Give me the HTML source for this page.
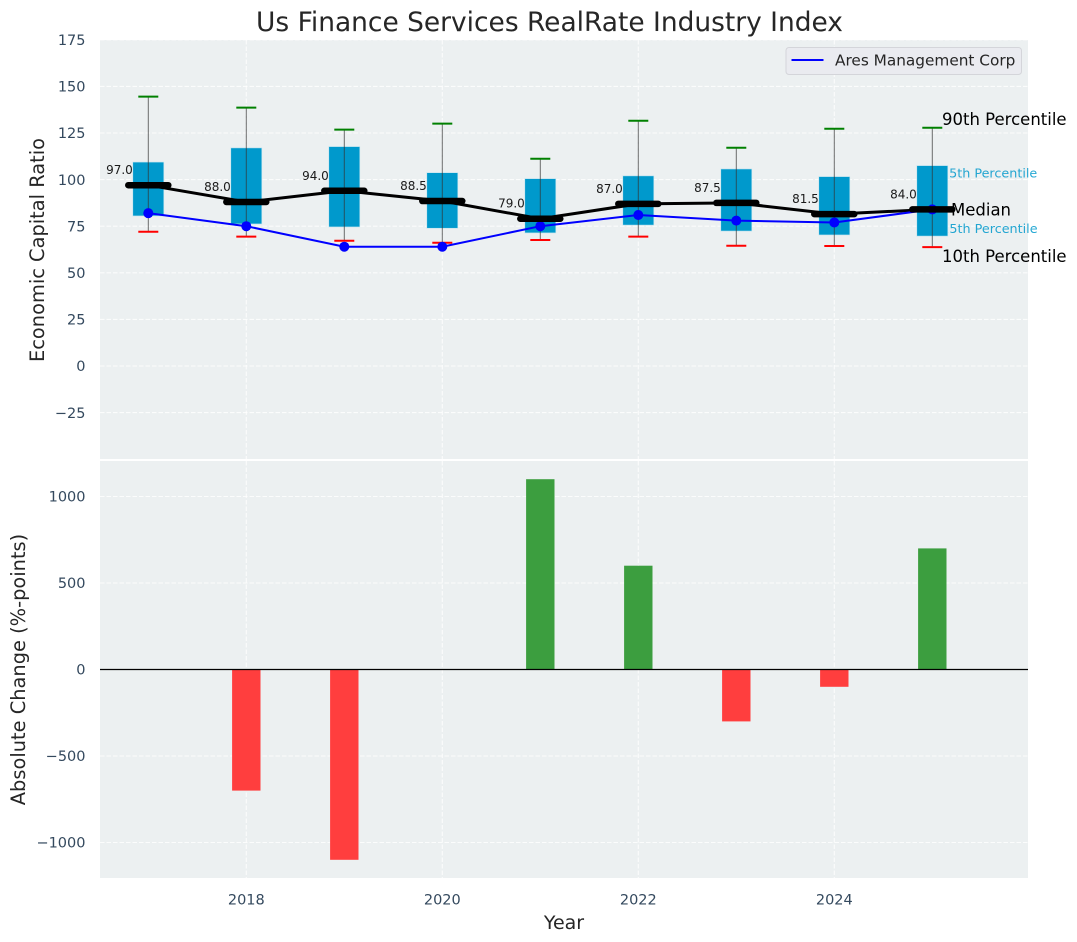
<!DOCTYPE html>
<html lang="en">
<head>
<meta charset="utf-8">
<title>Us Finance Services RealRate Industry Index</title>
<style>
html,body{margin:0;padding:0;background:#fff;width:1077px;height:942px;overflow:hidden}
svg{display:block;font-family:"DejaVu Sans","Liberation Sans",sans-serif}
</style>
</head>
<body>
<svg id="chart" xmlns="http://www.w3.org/2000/svg" width="1077" height="942" viewBox="0 0 1077 942">
  <text x="549.5" y="31" text-anchor="middle" font-size="26.45" fill="#262626">Us Finance Services RealRate Industry Index</text>
  <rect x="100" y="40" width="928" height="419" fill="#ecf0f1"/>
  <rect x="100" y="461" width="928" height="417" fill="#ecf0f1"/>
  <g id="grid"></g>
  <g id="upper"></g>
  <g id="lower"></g>
  <g id="ticks"></g>
  <text transform="translate(44,250) rotate(-90)" text-anchor="middle" font-size="19.4" fill="#262626">Economic Capital Ratio</text>
  <text transform="translate(25,669.5) rotate(-90)" text-anchor="middle" font-size="19.4" fill="#262626">Absolute Change (%-points)</text>
  <text x="564" y="929" text-anchor="middle" font-size="19" fill="#262626">Year</text>
  <g>
    <rect x="786" y="47.5" width="235.5" height="27" rx="3" fill="#eaebf0" stroke="#d4d5da" stroke-width="1"/>
    <line x1="791.5" y1="60" x2="823.5" y2="60" stroke="#0000ff" stroke-width="2"/>
    <text x="835" y="65.5" font-size="15.3" fill="#262626">Ares Management Corp</text>
  </g>
</svg>
<script>
const years = [2017, 2018, 2019, 2020, 2021, 2022, 2023, 2024, 2025];
const p90 = [144.5, 138.6, 126.8, 130, 111.2, 131.6, 117.1, 127.3, 127.8];
const q3 = [109.4, 117, 117.7, 103.7, 100.5, 102, 105.7, 101.6, 107.5];
const median = [97, 88, 94, 88.5, 79, 87, 87.5, 81.5, 84];
const q1 = [80.5, 76.2, 74.6, 73.9, 71.4, 75.6, 72.4, 70.3, 69.7];
const p10 = [72, 69.4, 67.2, 66.1, 67.6, 69.4, 64.5, 64.4, 63.8];
const company = [82, 75, 64, 64, 75, 81, 78, 77, 84];
const changes = [0, -700, -1100, 0, 1100, 600, -300, -100, 700];
const upperTicks = [-25, 0, 25, 50, 75, 100, 125, 150, 175];
const lowerTicks = [-1000, -500, 0, 500, 1000];
const yearTicks = [2018, 2020, 2022, 2024];

const X = v => 148.3 + (v - 2017) * 98;
const YU = v => 366 - v * 1.864;
const YL = v => 669.5 - v * 0.173;
const NS = 'http://www.w3.org/2000/svg';
const gridG = document.getElementById('grid');
const upperG = document.getElementById('upper');
const lowerG = document.getElementById('lower');
const ticksG = document.getElementById('ticks');

function mk(parent, tag, attrs, text) {
  const el = document.createElementNS(NS, tag);
  for (const k in attrs) el.setAttribute(k, attrs[k]);
  if (text !== undefined) el.textContent = text;
  parent.appendChild(el);
  return el;
}
const fmt = v => String(v).replace('-', '\u2212');
const gridStyle = {stroke: '#ffffff', 'stroke-width': 1.1, 'stroke-dasharray': '4.5 2', 'stroke-opacity': 0.8};

upperTicks.forEach(v => {
  const g = mk(gridG, 'line', {x1: 100, x2: 1028, y1: YU(v), y2: YU(v), ...gridStyle});
  
  
  const t = mk(ticksG, 'text', {x: 85.5, y: YU(v) + 5.2, 'text-anchor': 'end', 'font-size': 14.5, fill: '#34495e'}, fmt(v));
  
  
});
lowerTicks.forEach(v => {
  const g = mk(gridG, 'line', {x1: 100, x2: 1028, y1: YL(v), y2: YL(v), ...gridStyle});
  
  
  const t = mk(ticksG, 'text', {x: 85.5, y: YL(v) + 5.2, 'text-anchor': 'end', 'font-size': 14.5, fill: '#34495e'}, fmt(v));
  
  
});
yearTicks.forEach(v => {
  const a = mk(gridG, 'line', {x1: X(v), x2: X(v), y1: 40, y2: 459, ...gridStyle});
  
  
  const b = mk(gridG, 'line', {x1: X(v), x2: X(v), y1: 461, y2: 878, ...gridStyle});
  
  
  const t = mk(ticksG, 'text', {x: X(v), y: 904.5, 'text-anchor': 'middle', 'font-size': 14.5, fill: '#34495e'}, String(v));
  
  
});

/* percentile annotations sit beneath the boxes, tied to the final year */
const last = years.length - 1;
const lastX = X(years[last]);
const a90 = mk(upperG, 'text', {x: lastX + 9.7, y: YU(p90[last]) - 3, 'font-size': 16.5, fill: '#000'}, '90th Percentile');


const a75 = mk(upperG, 'text', {x: lastX + 8.7, y: YU(q3[last]) + 12, 'font-size': 12.75, fill: '#0099cc', opacity: 0.85}, '75th Percentile');


const a25 = mk(upperG, 'text', {x: lastX + 9, y: YU(q1[last]) - 3, 'font-size': 12.75, fill: '#0099cc', opacity: 0.85}, '25th Percentile');


const a10 = mk(upperG, 'text', {x: lastX + 9.7, y: YU(p10[last]) + 15, 'font-size': 16.5, fill: '#000'}, '10th Percentile');



years.forEach((yr, i) => {
  const x = X(yr);
  const box = mk(upperG, 'rect', {x: x - 15.5, y: YU(q3[i]), width: 31, height: YU(q1[i]) - YU(q3[i]), fill: '#0099cc', stroke: '#bfe3ef', 'stroke-width': 0.6});
  
  
  const w = mk(upperG, 'line', {x1: x, x2: x, y1: YU(p90[i]), y2: YU(p10[i]), stroke: '#333', 'stroke-width': 1, opacity: 0.7});
  
  
  const hi = mk(upperG, 'line', {x1: x - 10, x2: x + 10, y1: YU(p90[i]), y2: YU(p90[i]), stroke: '#008000', 'stroke-width': 2});
  
  
  const lo = mk(upperG, 'line', {x1: x - 10, x2: x + 10, y1: YU(p10[i]), y2: YU(p10[i]), stroke: '#ff0000', 'stroke-width': 2});
  
  
  const lab = mk(upperG, 'text', {x: x - 15.5, y: YU(median[i]) - 11, 'text-anchor': 'end', 'font-size': 12, fill: '#1a1a1a'}, median[i].toFixed(1));
  
  
});

const medianLine = mk(upperG, 'polyline', {points: years.map((y, i) => X(y) + ',' + YU(median[i])).join(' '), fill: 'none', stroke: '#000', 'stroke-width': 3});



const companyLine = mk(upperG, 'polyline', {points: years.map((y, i) => X(y) + ',' + YU(company[i])).join(' '), fill: 'none', stroke: '#0000ff', 'stroke-width': 2});



years.forEach((yr, i) => {
  const x = X(yr);
  const m = mk(upperG, 'circle', {cx: x, cy: YU(company[i]), r: 5, fill: '#0000ff'});
  
  
  const bar = mk(upperG, 'line', {x1: x - 20, x2: x + 20, y1: YU(median[i]), y2: YU(median[i]), stroke: '#000', 'stroke-width': 6.5, 'stroke-linecap': 'round'});
  
  
});

const aMed = mk(upperG, 'text', {x: lastX + 18.7, y: YU(median[last]) + 6, 'font-size': 16.5, fill: '#000'}, 'Median');



years.forEach((yr, i) => {
  const v = changes[i];
  if (v === 0) return;
  const top = Math.min(YL(0), YL(v));
  const h = Math.abs(YL(v) - YL(0));
  const b = mk(lowerG, 'rect', {x: X(yr) - 14.2, y: top, width: 28.4, height: h, fill: v > 0 ? '#3c9e3f' : '#ff3e3e'});
  
  
});
const zero = mk(lowerG, 'line', {x1: 100, x2: 1028, y1: YL(0), y2: YL(0), stroke: '#000', 'stroke-width': 1.2});


</script>
</body>
</html>
